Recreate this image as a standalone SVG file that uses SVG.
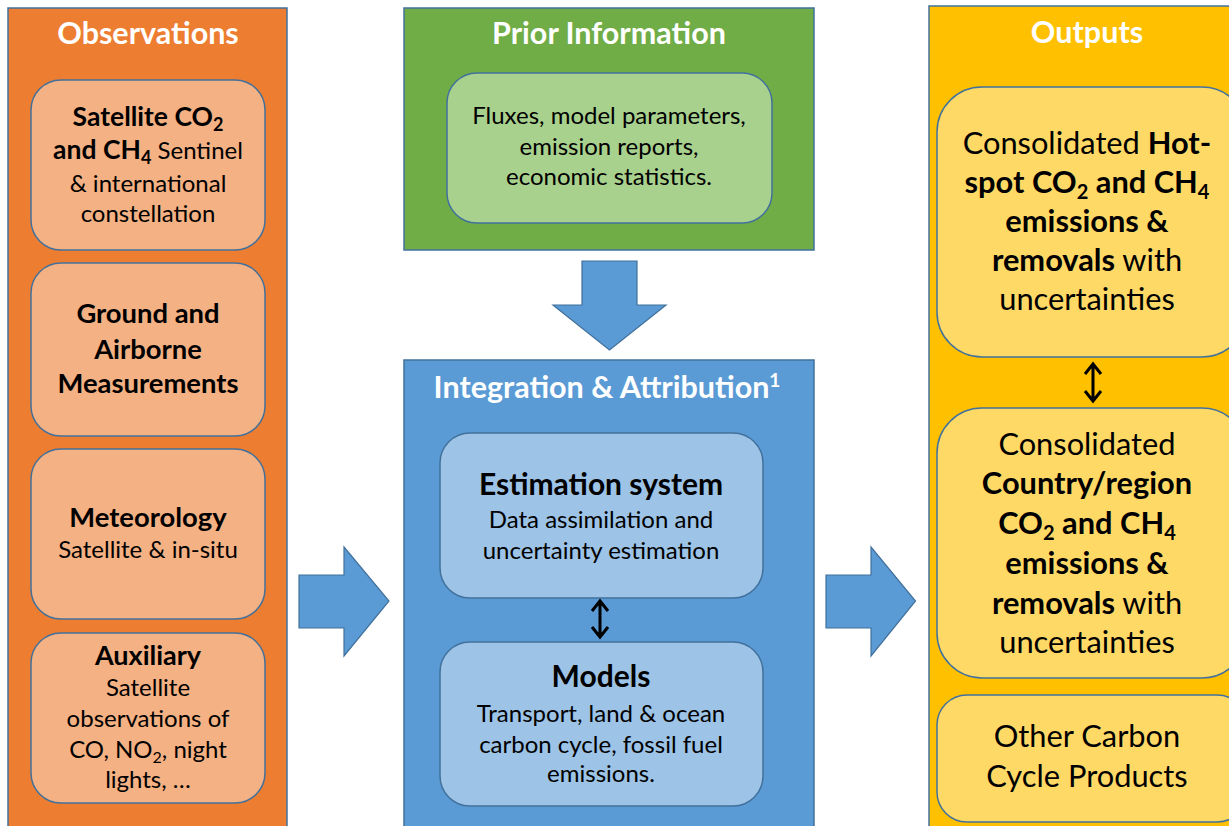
<svg xmlns="http://www.w3.org/2000/svg" width="1229" height="826" viewBox="0 0 1229 826">
<style>
text{font-family:Lato,"Liberation Sans",sans-serif;text-anchor:middle;fill:#000}
.t{font-weight:bold;fill:#fff;font-size:30.5px}
.b{font-weight:bold}
.s{font-size:24px}
.m{font-size:27.4px}
.h{font-size:30px}
.o{font-size:30.8px}
.pan{stroke:#41719C;stroke-width:1.5}
.box{stroke:#41719C;stroke-width:1.5}
.blk{fill:#5B9BD5;stroke:#41719C;stroke-width:1.2}
.dbl{fill:none;stroke:#000;stroke-width:3}
</style>
<rect width="1229" height="826" fill="#fff"/>

<g id="observations">
<rect class="pan" x="8" y="8" width="279" height="840" fill="#ED7D31"/>
<text class="t" x="148" y="44">Observations</text>
</g>
<g id="obs-satellite">
<rect class="box" x="31" y="80" width="234" height="170" rx="30" fill="#F4B183"/>
<text x="148" y="126" font-size="26.5" class="b">Satellite CO<tspan font-size="18" dy="5">2</tspan></text>
<text class="s" x="148" y="159"><tspan class="b" font-size="26.5">and CH<tspan font-size="18" dy="5">4</tspan></tspan><tspan dy="-5"> Sentinel</tspan></text>
<text class="s" x="148" y="192">&amp; international</text>
<text class="s" x="148" y="222">constellation</text>
</g>
<g id="obs-ground">
<rect class="box" x="31" y="263" width="234" height="173" rx="30" fill="#F4B183"/>
<text class="m b" x="148" y="323">Ground and</text>
<text class="m b" x="148" y="359">Airborne</text>
<text class="m b" x="148" y="393">Measurements</text>
</g>
<g id="obs-meteorology">
<rect class="box" x="31" y="449" width="234" height="170" rx="30" fill="#F4B183"/>
<text class="m b" x="148" y="527">Meteorology</text>
<text class="s" x="148" y="558">Satellite &amp; in-situ</text>
</g>
<g id="obs-auxiliary">
<rect class="box" x="31" y="633" width="234" height="170" rx="30" fill="#F4B183"/>
<text class="b" font-size="27" x="148" y="665">Auxiliary</text>
<text class="s" x="148" y="696">Satellite</text>
<text class="s" x="148" y="727">observations of</text>
<text class="s" x="148" y="758">CO, NO<tspan font-size="16" dy="5">2</tspan><tspan dy="-5">, night</tspan></text>
<text class="s" x="148" y="788">lights, …</text>
</g>

<g id="prior">
<rect class="pan" x="404" y="8" width="410" height="242" fill="#70AD47"/>
<text class="t" x="609" y="44">Prior Information</text>
</g>
<g id="prior-box">
<rect class="box" x="447" y="73" width="325" height="150" rx="30" fill="#A9D18E"/>
<text class="s" x="609" y="124">Fluxes, model parameters,</text>
<text class="s" x="609" y="155">emission reports,</text>
<text class="s" x="609" y="185">economic statistics.</text>
</g>

<g id="integration">
<rect class="pan" x="404" y="360" width="410" height="480" fill="#5B9BD5"/>
<text class="t" x="607" y="398">Integration &amp; Attribution<tspan font-size="19" dy="-11">1</tspan></text>
</g>
<g id="estimation">
<rect class="box" x="440" y="433" width="323" height="165" rx="30" fill="#9DC3E6"/>
<text class="h b" x="601" y="495">Estimation system</text>
<text class="s" x="601" y="528">Data assimilation and</text>
<text class="s" x="601" y="559">uncertainty estimation</text>
</g>
<g id="models">
<rect class="box" x="440" y="642" width="323" height="164" rx="30" fill="#9DC3E6"/>
<text class="h b" x="601" y="687">Models</text>
<text class="s" x="601" y="722">Transport, land &amp; ocean</text>
<text class="s" x="601" y="753">carbon cycle, fossil fuel</text>
<text class="s" x="601" y="782">emissions.</text>
</g>

<g id="outputs">
<rect class="pan" x="929" y="6" width="320" height="840" fill="#FFC000"/>
<text class="t" x="1087" y="43">Outputs</text>
</g>
<g id="out-hotspot">
<rect class="box" x="937" y="87" width="310" height="270" rx="45" fill="#FFD966"/>
<text class="o" x="1087" y="154" font-size="30">Consolidated <tspan class="b">Hot-</tspan></text>
<text class="o b" x="1087" y="193">spot CO<tspan font-size="20" dy="6">2</tspan><tspan dy="-6"> and CH</tspan><tspan font-size="20" dy="6">4</tspan></text>
<text class="o b" x="1087" y="232">emissions &amp;</text>
<text class="o" x="1087" y="271"><tspan class="b">removals</tspan> with</text>
<text class="o" x="1087" y="310">uncertainties</text>
</g>
<g id="out-country">
<rect class="box" x="937" y="408" width="310" height="270" rx="45" fill="#FFD966"/>
<text class="o" x="1087" y="455">Consolidated</text>
<text class="o b" x="1087" y="494">Country/region</text>
<text class="o b" x="1087" y="534">CO<tspan font-size="20" dy="6">2</tspan><tspan dy="-6"> and CH</tspan><tspan font-size="20" dy="6">4</tspan></text>
<text class="o b" x="1087" y="574">emissions &amp;</text>
<text class="o" x="1087" y="614"><tspan class="b">removals</tspan> with</text>
<text class="o" x="1087" y="653">uncertainties</text>
</g>
<g id="out-other">
<rect class="box" x="937" y="695" width="310" height="127" rx="30" fill="#FFD966"/>
<text class="o" x="1087" y="747">Other Carbon</text>
<text class="o" x="1087" y="787">Cycle Products</text>
</g>

<g id="connectors">
<polygon class="blk" points="582,261 637,261 637,305 666,305 609.5,350 553,305 582,305"/>
<polygon class="blk" points="299,575 344,575 344,547 389,601 344,656 344,628 299,628"/>
<polygon class="blk" points="826,575 871,575 871,547 915.5,601 871,656 871,628 826,628"/>
<path class="dbl" d="M600,601 V637 M592,611 L600,601 L608,611 M592,627 L600,637 L608,627"/>
<path class="dbl" d="M1093,364 V401 M1085,374 L1093,364 L1101,374 M1085,391 L1093,401 L1101,391"/>
</g>
</svg>
